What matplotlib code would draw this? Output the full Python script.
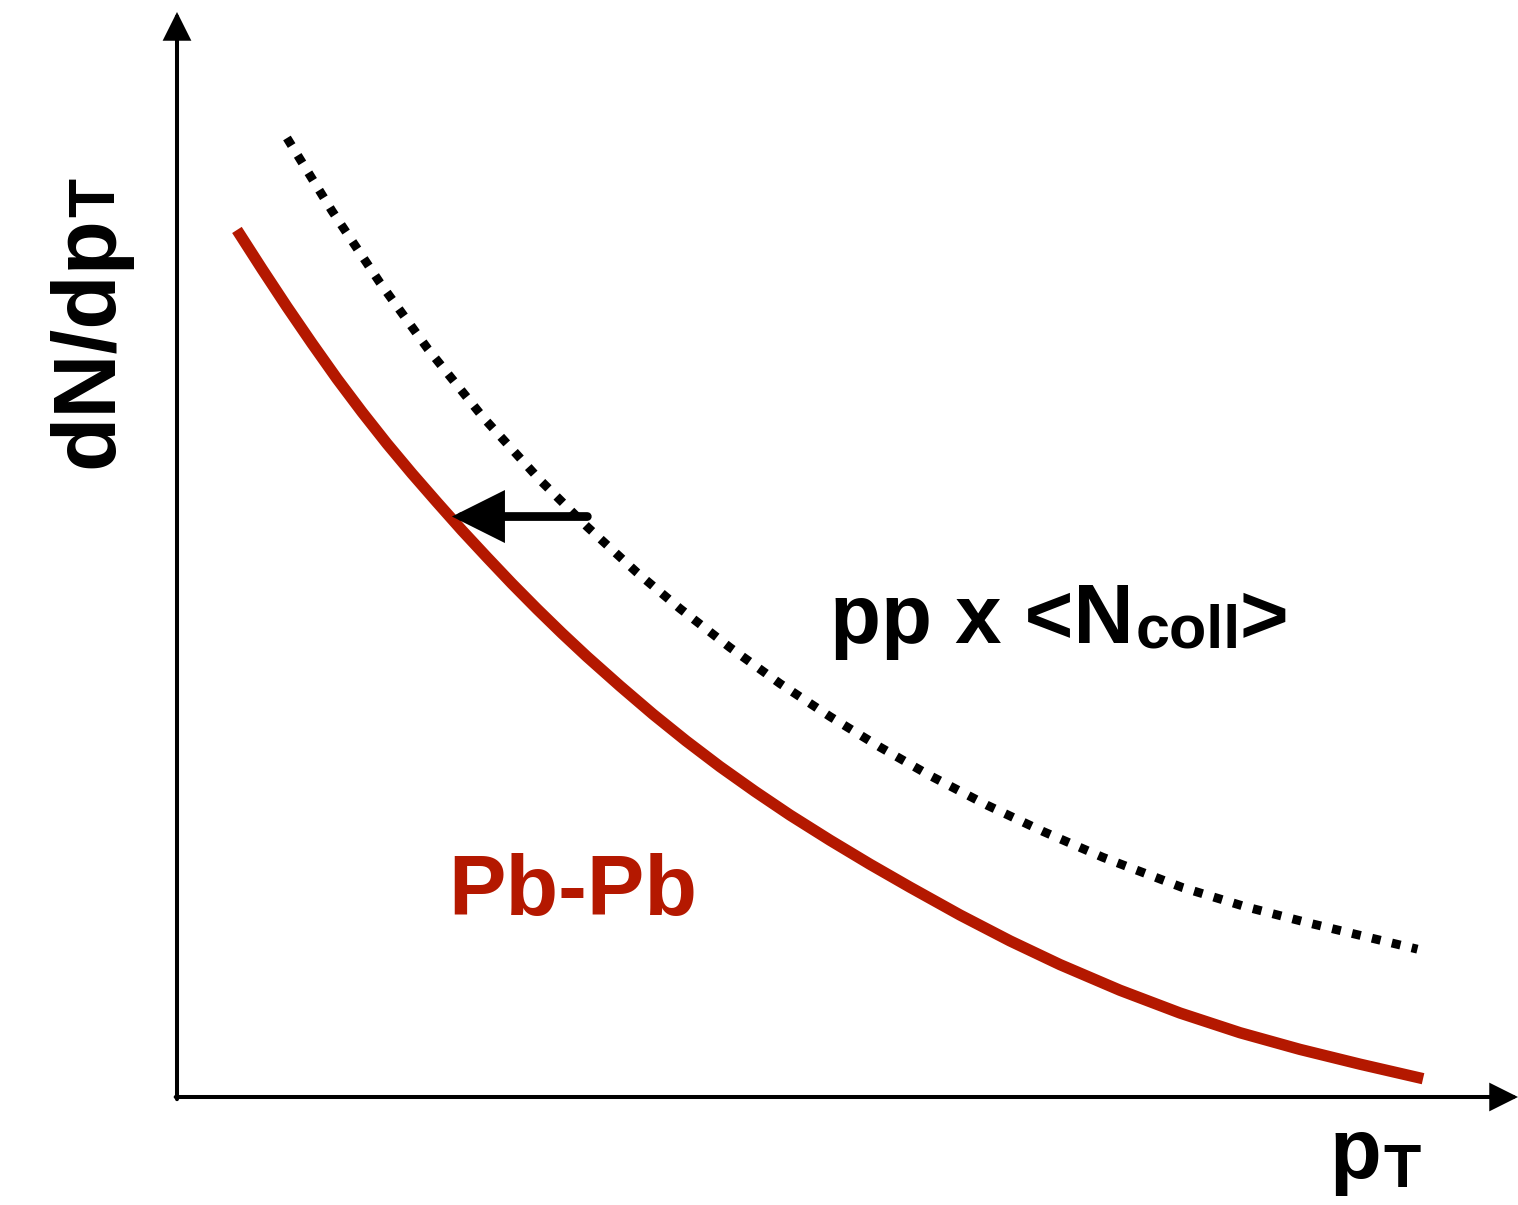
import matplotlib
matplotlib.use("Agg")
import matplotlib.pyplot as plt

plt.rcParams['font.family'] = ['Liberation Sans', 'DejaVu Sans']

W, H, DPI = 1518, 1205, 100

# Schematic spectra, arbitrary units (pT on 0-10, dN/dpT on 0-8)
pbpb_pt = [0.447, 0.634, 0.820, 1.007, 1.193, 1.380, 1.566, 1.752, 1.939,
           2.125, 2.312, 2.498, 2.685, 2.871, 3.057, 3.304, 3.550, 3.796,
           4.049, 4.310, 4.571, 4.870, 5.168, 5.466, 5.839, 6.212, 6.585,
           7.032, 7.480, 7.927, 8.374, 8.822, 9.292]
pbpb_yield = [6.393, 6.105, 5.826, 5.556, 5.296, 5.050, 4.817, 4.597, 4.385,
              4.178, 3.979, 3.785, 3.598, 3.419, 3.247, 3.030, 2.822, 2.626,
              2.436, 2.253, 2.079, 1.893, 1.716, 1.547, 1.342, 1.151, 0.976,
              0.787, 0.619, 0.474, 0.351, 0.242, 0.135]

pp_ncoll_pt = [0.820, 1.156, 1.514, 1.872, 2.282, 2.707, 3.057, 3.430, 3.751,
               4.124, 4.497, 4.870, 5.242, 5.615, 6.040, 6.458, 6.905, 7.502,
               7.964, 8.427, 9.250]
pp_ncoll_yield = [7.071, 6.533, 6.003, 5.514, 5.012, 4.549, 4.206, 3.867, 3.601,
                  3.314, 3.048, 2.805, 2.580, 2.370, 2.152, 1.958, 1.767, 1.543,
                  1.404, 1.286, 1.090]

# Horizontal shift of the spectrum (energy loss)
shift_pt_from = 3.06
shift_pt_to = 2.05
shift_yield = 4.28

# Labels
x_label = ("p", "T")
y_label = ("dN/dp", "T")
ref_label = ("pp x <N", "coll", ">")
aa_label = "Pb-Pb"

RED = "#b41800"

fig = plt.figure(figsize=(W / DPI, H / DPI), dpi=DPI)
ax = fig.add_axes([177 / W, (H - 1097) / H, (1518 - 177) / W, (1097 - 12) / H])
ax.set_xlim(0, 10)
ax.set_ylim(0, 8)
ax.axis('off')

# Axes drawn as arrows
axis_arrow = dict(arrowstyle='-|>,head_length=16,head_width=8', mutation_scale=1,
                  lw=2.9, color='black', shrinkA=0, shrinkB=0, joinstyle='miter')
ax.annotate('', xy=(0, 1), xytext=(0, -0.002), xycoords='axes fraction',
            arrowprops=axis_arrow, annotation_clip=False)
ax.annotate('', xy=(1, 0), xytext=(-0.001, 0), xycoords='axes fraction',
            arrowprops=axis_arrow, annotation_clip=False)

# Spectra
ax.plot(pbpb_pt, pbpb_yield, color=RED, lw=8.2, solid_capstyle='butt',
        solid_joinstyle='round', clip_on=False)
ax.plot(pp_ncoll_pt, pp_ncoll_yield, color='black', lw=6.4,
        dashes=(1, 1.3), dash_capstyle='butt', dash_joinstyle='round',
        clip_on=False)

# Shift arrow
ax.annotate('', xy=(shift_pt_to, shift_yield), xytext=(shift_pt_from, shift_yield),
            arrowprops=dict(arrowstyle='-|>,head_length=28,head_width=14',
                            mutation_scale=1, lw=6.3, color='black',
                            shrinkA=0, shrinkB=0, joinstyle='miter'))

renderer = fig.canvas.get_renderer()


def place_parts(parts, x0, y0, rotation=0, color='black'):
    """Lay out text pieces one after another along a common baseline.

    x0, y0: start of the baseline in pixels measured from the top-left corner.
    parts: (string, fontsize, drop below baseline in px, gap before in px).
    """
    pos = 0.0
    for s, size, drop, gap in parts:
        pos += gap
        if rotation == 0:
            dx, dy = x0 + pos, (H - y0) - drop
        else:
            dx, dy = x0 + drop, (H - y0) + pos
        t = fig.text(dx / W, dy / H, s, fontsize=size, fontweight='bold',
                     color=color, rotation=rotation, rotation_mode='anchor',
                     ha='left', va='baseline')
        bb = t.get_window_extent(renderer)
        pos += bb.width if rotation == 0 else bb.height


place_parts([(x_label[0], 61, 0, 0), (x_label[1], 44, 9, 3)], 1329, 1178)
place_parts([(y_label[0], 64, 0, 0), (y_label[1], 46, 2, -1)], 112, 468, rotation=90)
place_parts([(ref_label[0], 60, 0, 0), (ref_label[1], 44, 4, 2),
             (ref_label[2], 60, 0, -1)], 830, 643)
place_parts([(aa_label, 62, 0, 0)], 448, 915, color=RED)

fig.savefig('out.png', dpi=DPI, facecolor='white')
